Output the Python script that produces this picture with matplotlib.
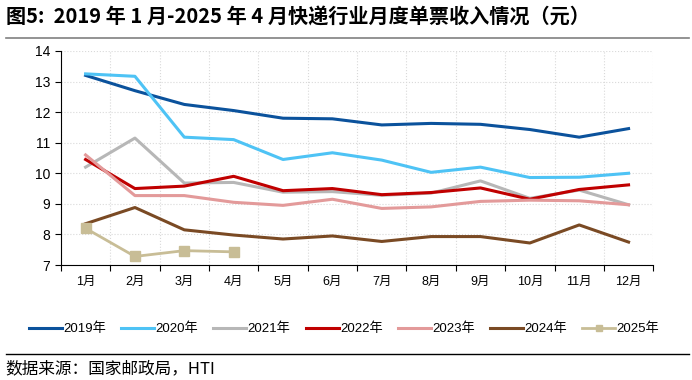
import numpy as np
import matplotlib.pyplot as plt
from matplotlib.lines import Line2D

plt.rcParams['font.family'] = ['Liberation Sans', 'Noto Sans CJK SC']

months = ['1月', '2月', '3月', '4月', '5月', '6月', '7月', '8月', '9月', '10月', '11月', '12月']

y2019 = [13.2, 12.7, 12.25, 12.05, 11.8, 11.78, 11.58, 11.63, 11.6, 11.43, 11.18, 11.46]
y2020 = [13.25, 13.17, 11.18, 11.1, 10.45, 10.67, 10.43, 10.03, 10.2, 9.86, 9.87, 10.0]
y2021 = [10.2, 11.15, 9.68, 9.7, 9.38, 9.4, 9.28, 9.35, 9.75, 9.18, 9.45, 8.97]
y2022 = [10.45, 9.5, 9.58, 9.9, 9.43, 9.5, 9.3, 9.37, 9.52, 9.15, 9.47, 9.62]
y2023 = [10.6, 9.27, 9.27, 9.05, 8.95, 9.15, 8.85, 8.9, 9.08, 9.12, 9.1, 8.97]
y2024 = [8.35, 8.88, 8.15, 7.98, 7.85, 7.95, 7.77, 7.93, 7.93, 7.72, 8.31, 7.75]
y2025 = [8.2, 7.28, 7.47, 7.43]

series = [
    ('2019年', y2019, '#0B529C'),
    ('2020年', y2020, '#4EC3F5'),
    ('2021年', y2021, '#B7B7B7'),
    ('2022年', y2022, '#C00000'),
    ('2023年', y2023, '#E39A9A'),
    ('2024年', y2024, '#7A4A24'),
]

fig = plt.figure(figsize=(6.92, 3.8), dpi=100)
ax = fig.add_axes([0.088, 0.3026, 0.856, 0.5634])

x = np.arange(12) + 0.5
handles = []
for name, vals, c in series:
    ax.plot(x[:len(vals)], vals, color=c, lw=2.2)
    handles.append(Line2D([], [], color=c, lw=2.2, label=name))

ax.plot(x[:len(y2025)], y2025, color='#C8BD96', lw=2.0, marker='s', ms=7)
handles.append(Line2D([], [], color='#C8BD96', lw=2.0, marker='s', ms=5, label='2025年'))

ax.set_xlim(0, 12)
ax.set_ylim(7, 14)
ax.set_xticks(np.arange(13))
ax.set_xticklabels([])
ax.set_xticks(x, minor=True)
ax.set_xticklabels(months, minor=True, fontsize=9)
ax.tick_params(axis='x', which='minor', length=0, pad=8)
ax.tick_params(axis='x', which='major', length=4)
ax.set_yticks(range(7, 15))
ax.tick_params(axis='y', labelsize=10, length=4)

ax.grid(True, which='major', color='#D9D9D9', ls=':', lw=0.8)
for s in ['top', 'right']:
    ax.spines[s].set_visible(False)

fig.legend(handles=handles, loc='center', bbox_to_anchor=(0.497, 0.134), ncol=7,
           frameon=False, fontsize=9.5, handlelength=2.5, handletextpad=0.1,
           columnspacing=1.15)

fig.text(0.008, 0.955, '图5:  2019 年 1 月-2025 年 4 月快递行业月度单票收入情况（元）',
         fontsize=14.5, fontweight='bold', va='center',
         family=['Noto Sans CJK SC', 'DejaVu Sans'])
fig.add_artist(Line2D([0.008, 0.995], [0.9, 0.9], color='#808080', lw=1.2))
fig.add_artist(Line2D([0.008, 0.995], [0.068, 0.068], color='black', lw=1.0))
fig.text(0.008, 0.03, '数据来源：国家邮政局，HTI', fontsize=12, va='center',
         family=['Noto Sans CJK SC', 'DejaVu Sans'])

fig.savefig('out.png', dpi=100)
